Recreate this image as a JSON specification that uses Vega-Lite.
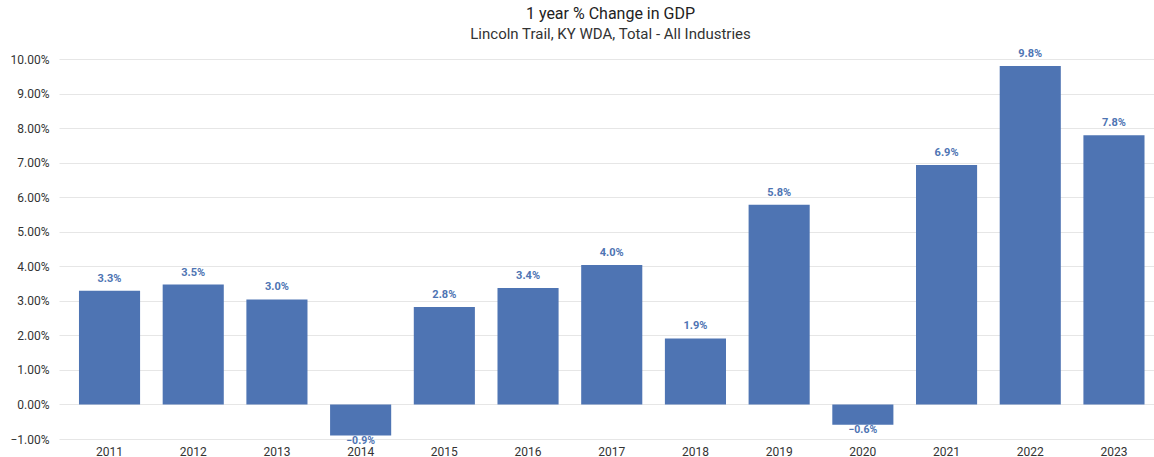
{
  "$schema": "https://vega.github.io/schema/vega-lite/v6.json",
  "width": 1095,
  "height": 380,
  "autosize": {"type": "none"},
  "padding": {"left": 59, "top": 59, "right": 0, "bottom": 18},
  "background": "white",
  "title": {
    "text": "1 year % Change in GDP",
    "subtitle": "Lincoln Trail, KY WDA, Total - All Industries",
    "font": "Roboto",
    "subtitleFont": "Roboto",
    "fontSize": 16,
    "subtitleFontSize": 15,
    "fontWeight": "normal",
    "color": "#222222",
    "subtitleColor": "#333333",
    "anchor": "middle",
    "frame": "group",
    "offset": 6,
    "subtitlePadding": 5,
    "dx": 4
  },
  "data": {
    "values": [
      {"year": "2011", "change": 0.0329},
      {"year": "2012", "change": 0.0347},
      {"year": "2013", "change": 0.0304},
      {"year": "2014", "change": -0.0090},
      {"year": "2015", "change": 0.0282},
      {"year": "2016", "change": 0.0337},
      {"year": "2017", "change": 0.0404},
      {"year": "2018", "change": 0.0191},
      {"year": "2019", "change": 0.0578},
      {"year": "2020", "change": -0.0059},
      {"year": "2021", "change": 0.0693},
      {"year": "2022", "change": 0.0980},
      {"year": "2023", "change": 0.0779}
    ]
  },
  "encoding": {
    "x": {
      "field": "year",
      "type": "ordinal",
      "title": null,
      "scale": {"paddingInner": 0.27, "paddingOuter": 0.176, "align": 0.678},
      "axis": {
        "labelAngle": 0,
        "ticks": false,
        "domain": false,
        "labelFont": "Roboto",
        "labelFontSize": 12,
        "labelColor": "#333333",
        "labelPadding": 7
      }
    },
    "y": {
      "field": "change",
      "type": "quantitative",
      "title": null,
      "scale": {"domain": [-0.01, 0.10], "nice": false, "zero": false},
      "axis": {
        "format": ".2%",
        "values": [-0.01, 0, 0.01, 0.02, 0.03, 0.04, 0.05, 0.06, 0.07, 0.08, 0.09, 0.10],
        "ticks": false,
        "domain": false,
        "grid": true,
        "gridColor": "#e6e6e6",
        "labelFont": "Roboto",
        "labelFontSize": 12,
        "labelColor": "#333333",
        "labelPadding": 10
      }
    }
  },
  "layer": [
    {
      "mark": {"type": "bar", "color": "#4e74b3"}
    },
    {
      "transform": [{"filter": "datum.change >= 0"}],
      "mark": {
        "type": "text",
        "font": "Roboto",
        "fontSize": 11,
        "fontWeight": "bold",
        "color": "#4e74b3",
        "baseline": "alphabetic",
        "dy": -9
      },
      "encoding": {"text": {"field": "change", "type": "quantitative", "format": ".1%"}}
    },
    {
      "transform": [{"filter": "datum.change < 0"}],
      "mark": {
        "type": "text",
        "font": "Roboto",
        "fontSize": 10.5,
        "fontWeight": "bold",
        "color": "#4e74b3",
        "baseline": "top",
        "dy": 0
      },
      "encoding": {"text": {"field": "change", "type": "quantitative", "format": ".1%"}}
    }
  ],
  "config": {"view": {"stroke": null}}
}
